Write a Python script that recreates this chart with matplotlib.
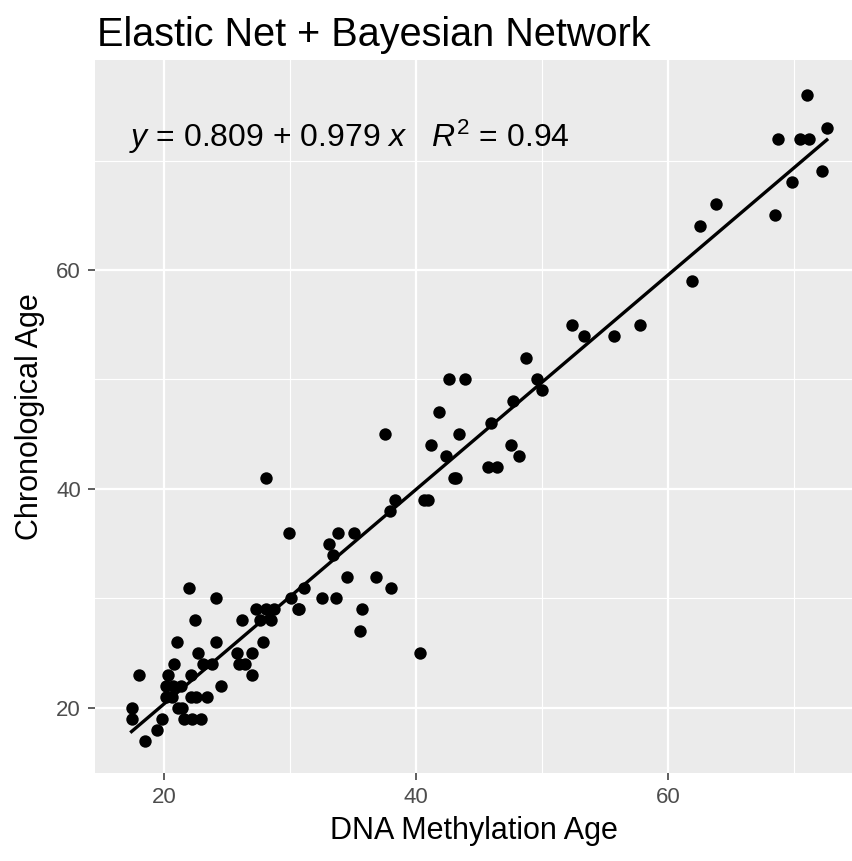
import numpy as np
import matplotlib
matplotlib.use("Agg")
import matplotlib.pyplot as plt

"""
Scatter of predicted (DNA methylation) age against chronological age with the fitted line.
"""

# predicted age (x) and chronological age (y), one entry per sample
dna_age = [
    18.5, 19.4,
    17.4, 19.8, 21.6, 22.2, 22.9,
    17.4, 21.1, 21.4,
    20.1, 20.6, 22.1, 22.5, 23.4,
    20.1, 20.7, 21.3, 24.5,
    18.0, 20.3, 22.1, 27.0,
    20.8, 23.1, 23.8, 25.9, 26.4,
    22.7, 25.8, 27.0, 40.3,
    21.0, 24.1, 27.8,
    35.5,
    22.4, 26.2, 27.6, 28.5,
    27.3, 28.1, 28.7, 30.7, 30.6, 35.7,
    24.1, 30.1, 32.5, 33.6,
    22.0, 31.1, 38.0,
    34.5, 36.8,
    33.4, 33.1,
    29.9, 33.8, 35.1,
    37.9,
    38.3, 40.6, 40.9,
    28.1, 43.0, 43.2,
    45.7, 46.4,
    42.4, 48.2,
    41.2, 47.5,
    37.5, 43.4,
    45.9, 41.85, 47.7, 50.0,
    42.6, 43.9, 49.6,
    48.7,
    53.3, 55.7, 52.4, 57.8,
    61.9, 62.5, 68.5, 63.8,
    69.8, 72.2,
    68.75, 70.5, 71.2,
    72.6, 71.0,
]
chrono_age = [
    17, 18,
    19, 19, 19, 19, 19,
    20, 20, 20,
    21, 21, 21, 21, 21,
    22, 22, 22, 22,
    23, 23, 23, 23,
    24, 24, 24, 24, 24,
    25, 25, 25, 25,
    26, 26, 26,
    27,
    28, 28, 28, 28,
    29, 29, 29, 29, 29, 29,
    30, 30, 30, 30,
    31, 31, 31,
    32, 32,
    34, 35,
    36, 36, 36,
    38,
    39, 39, 39,
    41, 41, 41,
    42, 42,
    43, 43,
    44, 44,
    45, 45,
    46, 47, 48, 49,
    50, 50, 50,
    52,
    54, 54, 55, 55,
    59, 64, 65, 66,
    68, 69,
    72, 72, 72,
    73, 76,
]

# regression reported in the annotation
intercept = 0.809
slope = 0.979
r_squared = 0.94

x_ticks = [20, 40, 60]
y_ticks = [20, 40, 60]

plt.rcParams['font.family'] = ['Liberation Sans', 'DejaVu Sans']
plt.rcParams['mathtext.fontset'] = 'custom'
plt.rcParams['mathtext.rm'] = 'Liberation Sans'
plt.rcParams['mathtext.it'] = 'Liberation Sans:italic'

W, H = 852, 861
fig = plt.figure(figsize=(W / 100, H / 100), dpi=100)
ax = fig.add_axes([95 / W, 1 - 773 / H, 1 - 95 / W, (773 - 60) / H])

ax.set_facecolor('#EBEBEB')
for s in ax.spines.values():
    s.set_visible(False)

ax.set_xlim(14.5, 74.6)
ax.set_ylim(14.06, 79.18)
ax.set_xticks(x_ticks)
ax.set_yticks(y_ticks)
ax.set_xticks([30, 50, 70], minor=True)
ax.set_yticks([30, 50, 70], minor=True)
ax.grid(which='major', color='white', linewidth=1.6)
ax.grid(which='minor', color='white', linewidth=0.8)
ax.set_axisbelow(True)
ax.tick_params(which='major', length=5, width=1.1, color='#333333',
               labelsize=16, labelcolor='#4D4D4D', pad=5)
ax.tick_params(which='minor', length=0)

x = np.array(dna_age)
y = np.array(chrono_age)
ax.scatter(x, y, s=80, color='black', linewidths=0, zorder=3)

# fitted line over the range of the data
xs = np.array([x.min(), x.max()])
ax.plot(xs, intercept + slope * xs, color='black', linewidth=2.4, zorder=4)

eq = (r'$\it{y}$ = %.3f + %.3f $\it{x}$   $\it{R}^2$ = %.2f'
      % (intercept, slope, r_squared))
ax.text(17.2, 72.2, eq, fontsize=23, color='black', va='center', ha='left')

ax.set_xlabel('DNA Methylation Age', fontsize=22, labelpad=6)
ax.set_ylabel('Chronological Age', fontsize=22, labelpad=8)
fig.text(97 / W, 1 - 46 / H, 'Elastic Net + Bayesian Network', fontsize=28.5,
         ha='left', va='baseline')

fig.savefig('out.png', dpi=100)
